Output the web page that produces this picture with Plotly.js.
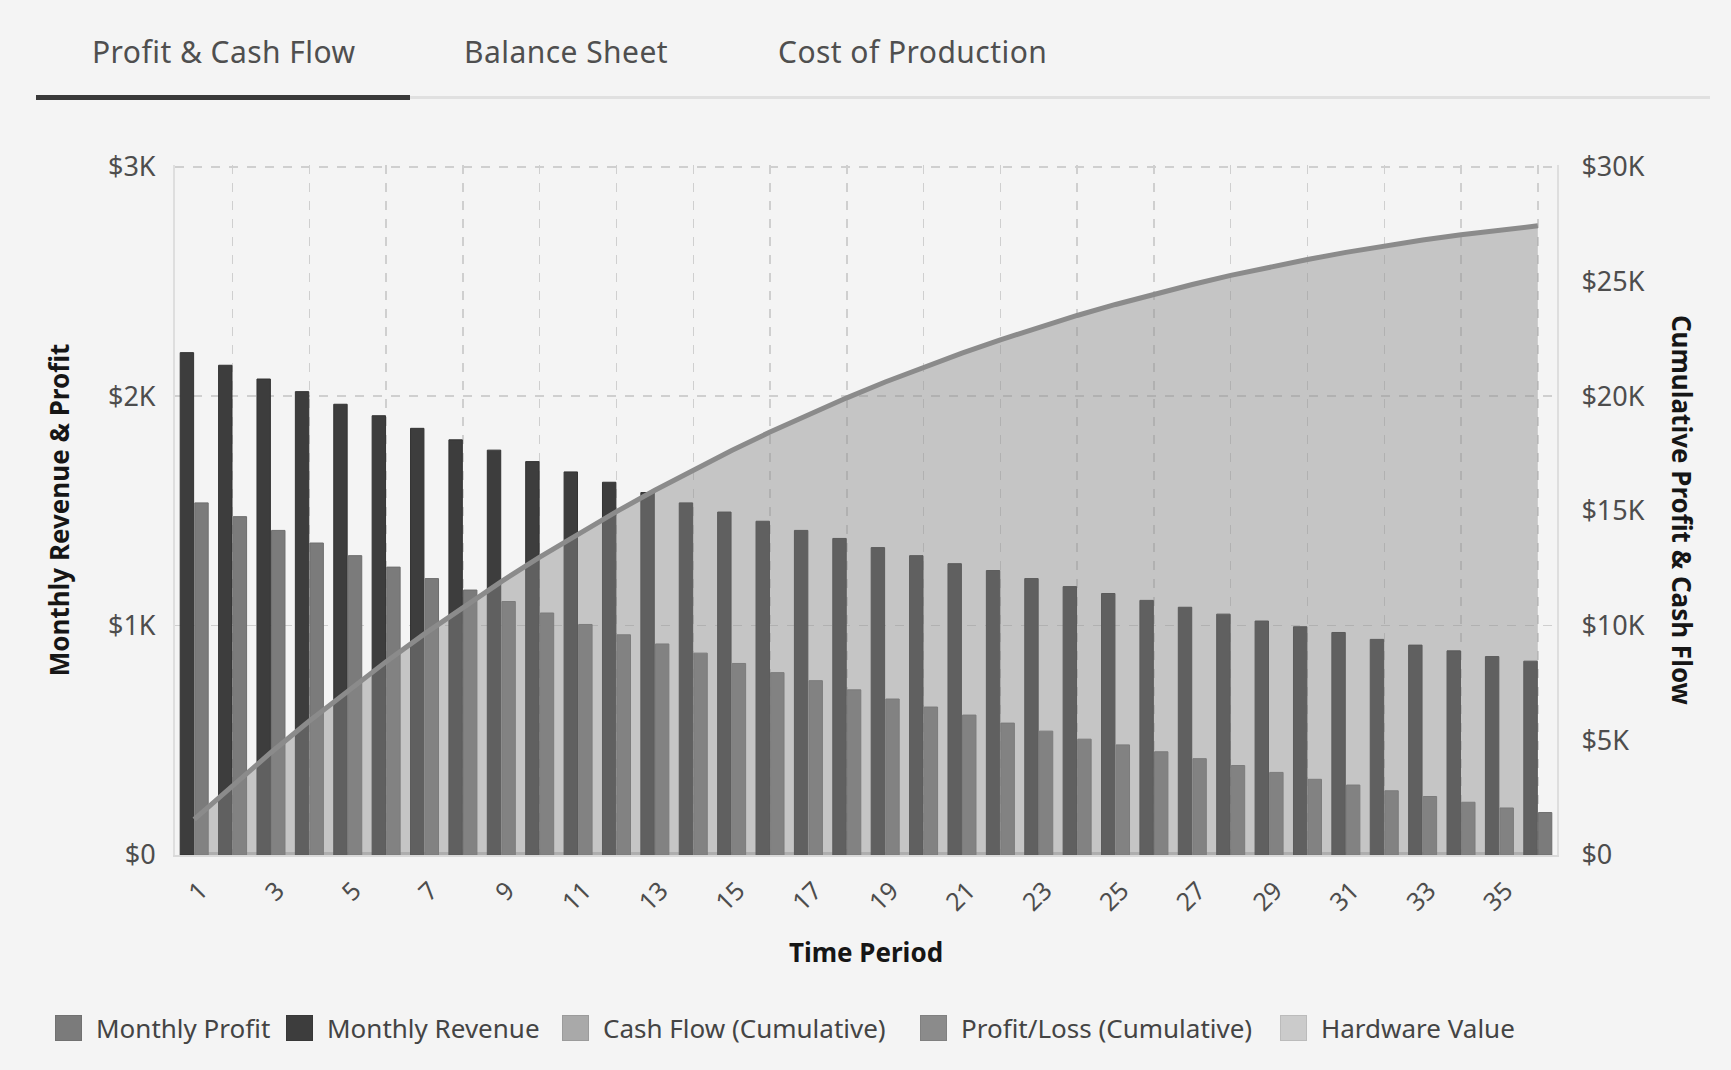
<!DOCTYPE html>
<html>
<head>
<meta charset="utf-8">
<script src="https://cdn.plot.ly/plotly-3.0.1.min.js"></script>
<style>
  html, body { margin:0; padding:0; background:#f4f4f4; }
  body { width:1731px; height:1070px; position:relative; overflow:hidden; font-family:'Noto Sans', sans-serif; }
  #chart { position:absolute; left:0; top:0; width:1731px; height:1070px; }
  .tab { position:absolute; top:34px; font-size:30px; line-height:36px; color:#4f4f4f; white-space:nowrap; letter-spacing:0.45px; }
  .li { position:absolute; top:1015px; display:flex; align-items:center; height:26px; }
  .sw { width:27px; height:26px; margin-right:14px; box-sizing:border-box; border:1px solid rgba(0,0,0,0.08); }
  .lt { font-size:26px; color:#444; white-space:nowrap; line-height:26px; }
</style>
</head>
<body>
<div id="chart"></div>
<div class="tab" style="left:92px">Profit &amp; Cash Flow</div>
<div class="tab" style="left:464px">Balance Sheet</div>
<div class="tab" style="left:778px">Cost of Production</div>
<div style="position:absolute;left:410px;top:96px;width:1300px;height:3px;background:#e0e0e0"></div>
<div style="position:absolute;left:36px;top:95px;width:374px;height:5px;background:#393939"></div>
<div id="legend"></div>
<script>
// ---- data ----
const months = [1,2,3,4,5,6,7,8,9,10,11,12,13,14,15,16,17,18,19,20,21,22,23,24,25,26,27,28,29,30,31,32,33,34,35,36];
const monthlyRevenue = [2190,2135,2075,2020,1965,1915,1860,1810,1765,1715,1670,1625,1580,1535,1495,1455,1415,1380,1340,1305,1270,1240,1205,1170,1140,1110,1080,1050,1020,995,970,940,915,890,865,845];
const monthlyProfit = [1535,1475,1415,1360,1305,1255,1205,1155,1105,1055,1005,960,920,880,835,795,760,720,680,645,610,575,540,505,480,450,420,390,360,330,305,280,255,230,205,185];
const cashFlowCumulative = [1550,3040,4470,5840,7160,8430,9640,10810,11920,12990,14000,14970,15900,16790,17630,18440,19200,19930,20620,21270,21880,22460,23010,23520,24000,24450,24870,25270,25630,25960,26270,26550,26810,27040,27250,27430];
const profitLossCumulative = [1550,3040,4470,5840,7160,8430,9640,10810,11920,12990,14000,14970,15900,16790,17630,18440,19200,19930,20620,21270,21880,22460,23010,23520,24000,24450,24870,25270,25630,25960,26270,26550,26810,27040,27250,27430];
const hardwareValue = [0,0,0,0,0,0,0,0,0,0,0,0,0,0,0,0,0,0,0,0,0,0,0,0,0,0,0,0,0,0,0,0,0,0,0,0];
const xTickLabels = ['1','3','5','7','9','11','13','15','17','19','21','23','25','27','29','31','33','35'];
const leftTickValues = [0,1000,2000,3000];
const leftTickLabels = ['$0','$1K','$2K','$3K'];
const rightTickValues = [0,5000,10000,15000,20000,25000,30000];
const rightTickLabels = ['$0','$5K','$10K','$15K','$20K','$25K','$30K'];
const seriesNames = ['Monthly Profit','Monthly Revenue','Cash Flow (Cumulative)','Profit/Loss (Cumulative)','Hardware Value'];
const seriesColors = ['#7b7b7b','#3d3d3d','#a9a9a9','#8b8b8b','#cbcbcb'];

const FONT = 'Noto Sans, sans-serif';
const gridCol = '#cfcfcf';

const traces = [
  { name: seriesNames[4], x: months, y: hardwareValue, yaxis:'y', type:'scatter', mode:'lines',
    line:{color:seriesColors[4], width:6}, cliponaxis:false, showlegend:false, hoverinfo:'skip' },
  { name: seriesNames[1], x: months, y: monthlyRevenue, yaxis:'y2', type:'bar',
    marker:{color:seriesColors[1], line:{color:'#333333', width:1}}, showlegend:false },
  { name: seriesNames[0], x: months, y: monthlyProfit, yaxis:'y2', type:'bar',
    marker:{color:seriesColors[0], line:{color:'#6e6e6e', width:1}}, showlegend:false },
  { name: seriesNames[2], x: months, y: cashFlowCumulative, yaxis:'y3', type:'scatter', mode:'lines',
    fill:'tozeroy', fillcolor:'rgba(140,140,140,0.45)', line:{width:0, color:seriesColors[2]}, showlegend:false },
  { name: seriesNames[3], x: months, y: profitLossCumulative, yaxis:'y3', type:'scatter', mode:'lines',
    line:{color:seriesColors[3], width:5}, showlegend:false }
];

const layout = {
  width:1731, height:1070,
  margin:{l:175, r:174, t:165, b:215},
  paper_bgcolor:'#f4f4f4', plot_bgcolor:'#f4f4f4',
  font:{family:FONT, size:26, color:'#4d4d4d'},
  showlegend:false,
  barmode:'group', bargap:0.24, bargroupgap:0.08,
  xaxis:{
    type:'linear', range:[0.5, 36.5],
    tickmode:'array', tickvals: xTickLabels.map(Number), ticktext: xTickLabels,
    tickangle:-45, ticks:'', showgrid:false, zeroline:false,
    showline:true, linecolor:'#d9d9d9', linewidth:2,
    ticklabelstandoff:9, ticklabelshift:6,
    tickfont:{family:FONT, size:25, color:'#4d4d4d'},
    minor:{tickmode:'array', tickvals: months.filter(m => m % 2 === 0), showgrid:true,
           gridcolor:gridCol, griddash:'dash', gridwidth:1.5, ticks:''},
    title:{text:'<b>Time Period</b>', font:{family:FONT, size:26, color:'#161616'}, standoff:27}
  },
  yaxis:{
    side:'right', range:[0,30080], tickmode:'array', tickvals:rightTickValues, ticktext:rightTickLabels,
    showgrid:false, zeroline:false, showline:true, linecolor:'#dedede', linewidth:2, ticks:'',
    ticklabelstandoff:17, tickfont:{family:FONT, size:27, color:'#4d4d4d'}
  },
  yaxis2:{
    overlaying:'y', side:'left', range:[0,3008], tickmode:'array', tickvals:leftTickValues, ticktext:leftTickLabels,
    showgrid:true, gridcolor:gridCol, griddash:'dash', gridwidth:1.5, zeroline:false,
    showline:true, linecolor:'#dedede', linewidth:2, ticks:'', ticklabelstandoff:12,
    tickfont:{family:FONT, size:27, color:'#4d4d4d'},
    title:{text:'<b>Monthly Revenue &amp; Profit</b>', font:{family:FONT, size:26, color:'#161616'}, standoff:31}
  },
  yaxis3:{ overlaying:'y', range:[0,30080], visible:false },
  annotations:[{
    xref:'paper', yref:'paper', x:1.0905, y:0.5, xanchor:'center', yanchor:'middle',
    text:'<b>Cumulative Profit &amp; Cash Flow</b>', textangle:90, showarrow:false,
    font:{family:FONT, size:26, color:'#161616'}
  }]
};

Plotly.newPlot('chart', traces, layout, {displayModeBar:false, staticPlot:true});

// HTML legend built from the series names/colours
const legendLefts = [55, 286, 562, 920, 1280];
const legend = document.getElementById('legend');
seriesNames.forEach((n, i) => {
  const item = document.createElement('div'); item.className = 'li'; item.style.left = legendLefts[i] + 'px';
  const sw = document.createElement('div'); sw.className = 'sw'; sw.style.background = seriesColors[i];
  const t = document.createElement('div'); t.className = 'lt'; t.textContent = n;
  item.appendChild(sw); item.appendChild(t); legend.appendChild(item);
});
</script>
</body>
</html>
